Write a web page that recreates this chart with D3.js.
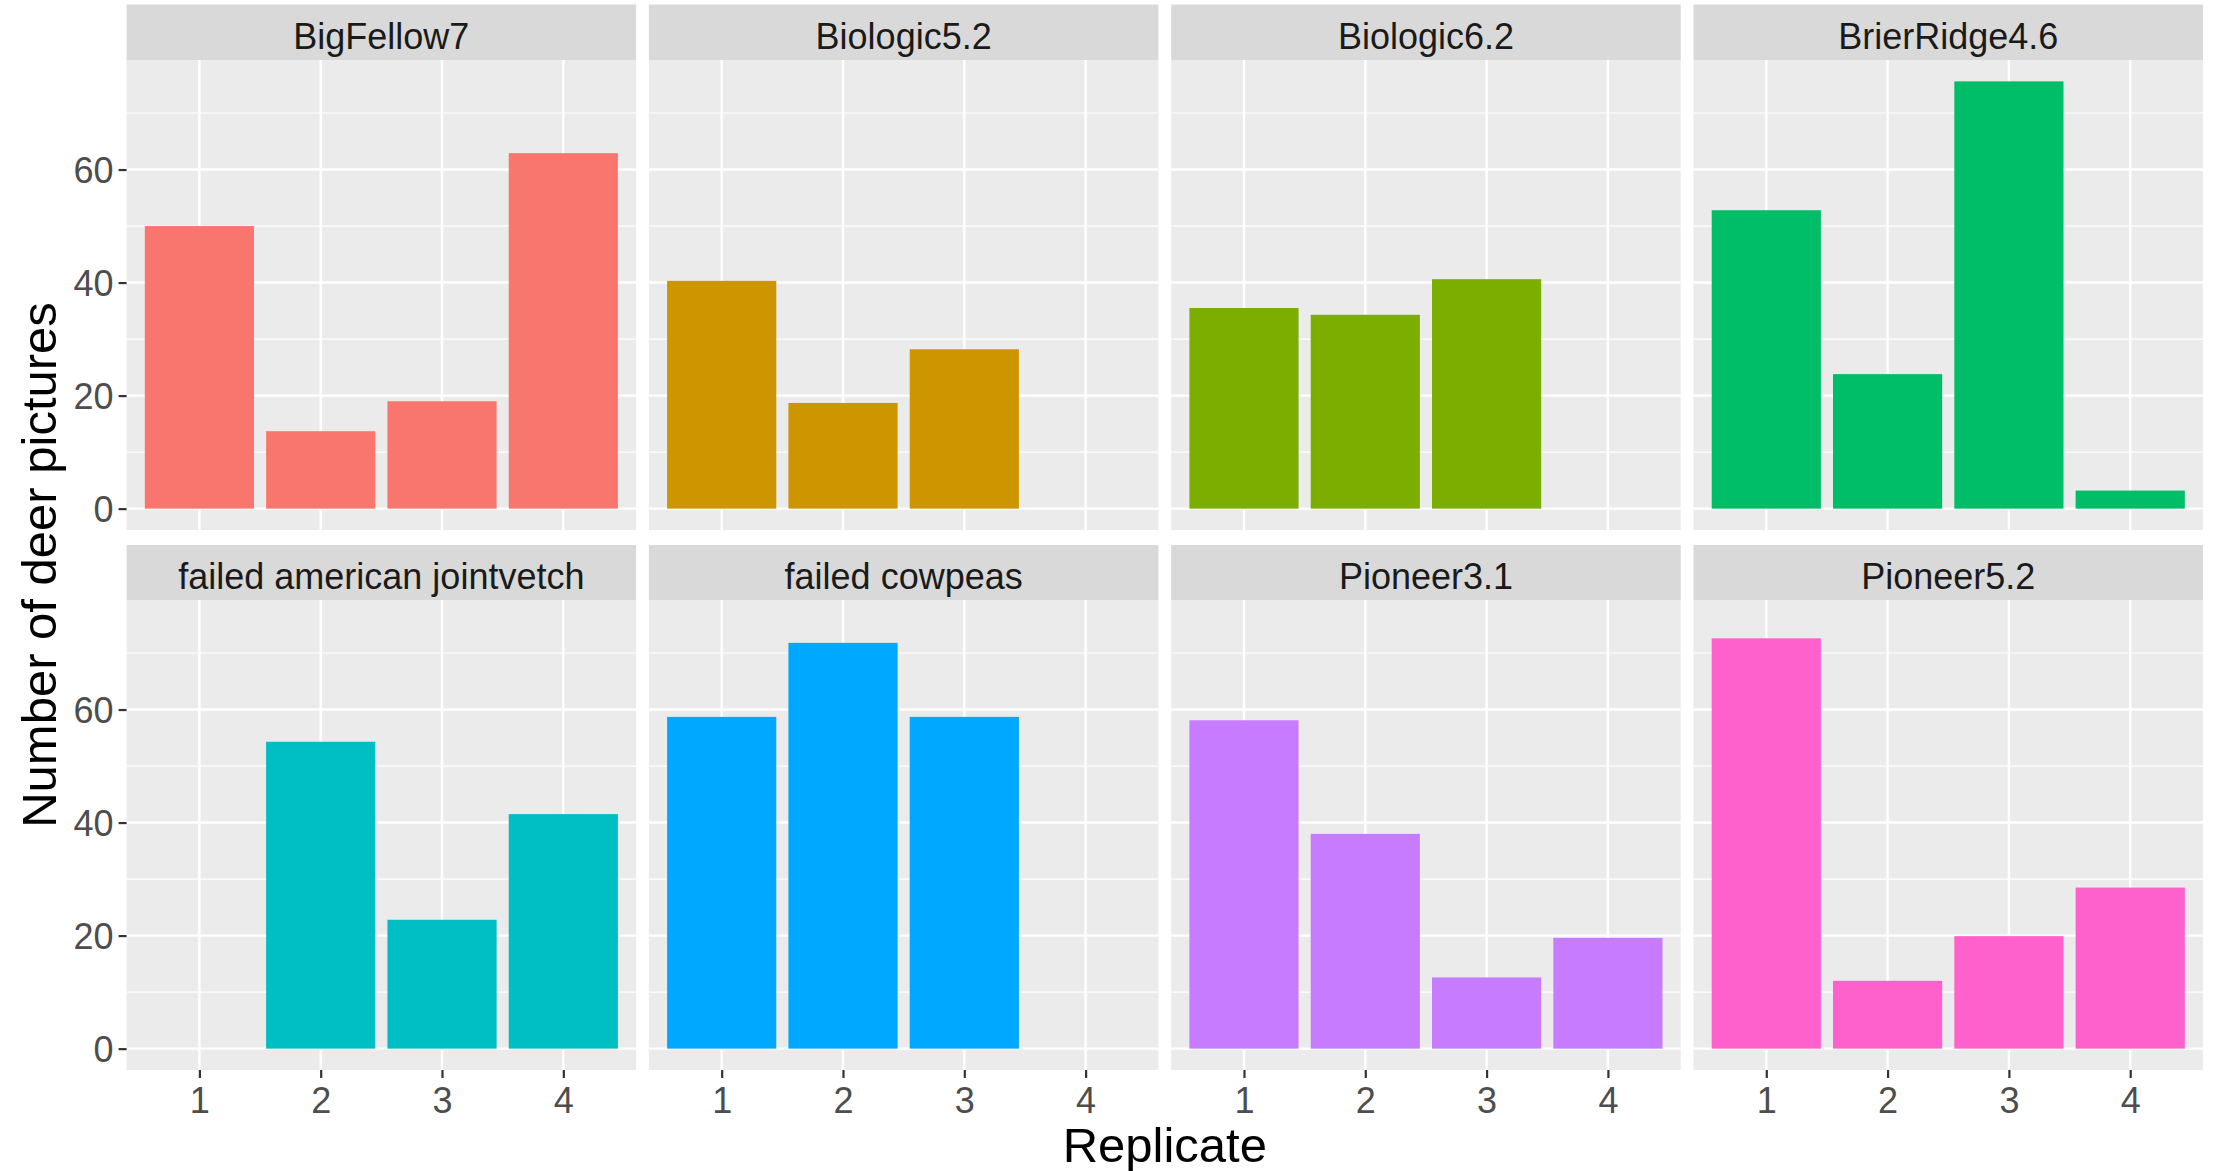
<!DOCTYPE html>
<html>
<head>
<meta charset="utf-8">
<script src="https://cdn.jsdelivr.net/npm/d3@7/dist/d3.min.js"></script>
<style>
  html, body { margin: 0; padding: 0; background: #ffffff; }
  svg { display: block; }
  text { font-family: "Liberation Sans", Arial, Helvetica, sans-serif; }
</style>
</head>
<body>
<svg id="chart" width="2216" height="1171"></svg>
<script>
// ---------------- data ----------------
const categories = ["BigFellow7", "Biologic5.2", "Biologic6.2", "BrierRidge4.6",
                    "failed american jointvetch", "failed cowpeas", "Pioneer3.1", "Pioneer5.2"];
const replicates = [1, 2, 3, 4];
const bigFellow7      = [50.0, 13.7, 19.0, 62.9];
const biologic52      = [40.3, 18.7, 28.2, null];
const biologic62      = [35.5, 34.3, 40.6, null];
const brierRidge46    = [52.8, 23.8, 75.6, 3.2];
const failedJointvetch = [null, 54.3, 22.8, 41.5];
const failedCowpeas   = [58.7, 71.8, 58.7, null];
const pioneer31       = [58.1, 38.0, 12.6, 19.6];
const pioneer52       = [72.6, 12.0, 19.9, 28.5];
const seriesValues = [bigFellow7, biologic52, biologic62, brierRidge46,
                      failedJointvetch, failedCowpeas, pioneer31, pioneer52];
const yTickValues = [0, 20, 40, 60];
const yMinorValues = [10, 30, 50, 70];
const colors = ["#F8766D", "#CD9600", "#7CAE00", "#00BE67", "#00BFC4", "#00A9FF", "#C77CFF", "#FF61CC"];
const xTitle = "Replicate";
const yTitle = "Number of deer pictures";

// ---------------- layout ----------------
const svg = d3.select("#chart");
const panelLeft0 = 126.6, panelW = 509.5, panelStep = 522.3;
const rows = [
  { stripTop: 4.5, plotTop: 60, plotBottom: 530 },
  { stripTop: 545, plotTop: 600, plotBottom: 1070 }
];
const ncol = 4;

const allVals = seriesValues.flat().filter(v => v != null);
const yMax = d3.max(allVals), yMinD = 0;
const yRange = yMax - yMinD;
const yDomain = [yMinD - 0.05 * yRange, yMax + 0.05 * yRange];

const data = [];
categories.forEach((c, i) => {
  replicates.forEach((r, j) => {
    const v = seriesValues[i][j];
    if (v != null) data.push({ cat: c, idx: i, rep: r, value: v });
  });
});

categories.forEach((cat, i) => {
  const row = Math.floor(i / ncol), col = i % ncol;
  const R = rows[row];
  const left = panelLeft0 + col * panelStep;
  const x = d3.scaleLinear().domain([0.4, 4.6]).range([left, left + panelW]);
  const y = d3.scaleLinear().domain(yDomain).range([R.plotBottom, R.plotTop]);
  const g = svg.append("g");

  // strip
  g.append("rect").attr("x", left).attr("y", R.stripTop)
    .attr("width", panelW).attr("height", R.plotTop - R.stripTop).attr("fill", "#D9D9D9");
  g.append("text").attr("x", left + panelW / 2).attr("y", R.stripTop + 44)
    .attr("text-anchor", "middle").attr("font-size", 36).attr("fill", "#1A1A1A")
    .text(cat);

  // panel background
  g.append("rect").attr("x", left).attr("y", R.plotTop)
    .attr("width", panelW).attr("height", R.plotBottom - R.plotTop).attr("fill", "#EBEBEB");

  // minor grid
  g.selectAll(".minor").data(yMinorValues).join("line")
    .attr("x1", left).attr("x2", left + panelW)
    .attr("y1", d => y(d)).attr("y2", d => y(d))
    .attr("stroke", "#FFFFFF").attr("stroke-width", 1.2);
  // major grid
  g.selectAll(".majorY").data(yTickValues).join("line")
    .attr("x1", left).attr("x2", left + panelW)
    .attr("y1", d => y(d)).attr("y2", d => y(d))
    .attr("stroke", "#FFFFFF").attr("stroke-width", 2.4);
  g.selectAll(".majorX").data(replicates).join("line")
    .attr("x1", d => x(d)).attr("x2", d => x(d))
    .attr("y1", R.plotTop).attr("y2", R.plotBottom)
    .attr("stroke", "#FFFFFF").attr("stroke-width", 2.4);

  // bars
  g.selectAll(".bar").data(data.filter(d => d.idx === i)).join("rect")
    .attr("x", d => x(d.rep - 0.45))
    .attr("width", d => x(d.rep + 0.45) - x(d.rep - 0.45))
    .attr("y", d => y(d.value))
    .attr("height", d => y(0) - y(d.value))
    .attr("fill", colors[i]);

  // y axis (first column)
  if (col === 0) {
    const ax = g.append("g").attr("transform", `translate(${left},0)`)
      .call(d3.axisLeft(y).tickValues(yTickValues).tickSize(8).tickPadding(5).tickFormat(d3.format("d")));
    ax.select(".domain").remove();
    ax.selectAll(".tick line").attr("stroke", "#333333").attr("stroke-width", 2.2);
    ax.selectAll(".tick text").attr("font-size", 36).attr("fill", "#4D4D4D")
      .attr("font-family", "'Liberation Sans', Arial, sans-serif").attr("dy", "0.36em");
  }
  // x axis (bottom row)
  if (row === 1) {
    const ax = g.append("g").attr("transform", `translate(0,${R.plotBottom})`)
      .call(d3.axisBottom(x).tickValues(replicates).tickSize(8).tickPadding(9).tickFormat(d3.format("d")));
    ax.select(".domain").remove();
    ax.selectAll(".tick line").attr("stroke", "#333333").attr("stroke-width", 2.2);
    ax.selectAll(".tick text").attr("font-size", 36).attr("fill", "#4D4D4D")
      .attr("font-family", "'Liberation Sans', Arial, sans-serif").attr("dy", "0.71em");
  }
});

// axis titles
const plotCenterX = (panelLeft0 + panelLeft0 + 3 * panelStep + panelW) / 2;
svg.append("text").attr("x", plotCenterX).attr("y", 1162)
  .attr("text-anchor", "middle").attr("font-size", 49).attr("fill", "#000000").text(xTitle);
svg.append("text").attr("transform", `translate(56,565) rotate(-90)`)
  .attr("text-anchor", "middle").attr("font-size", 49).attr("fill", "#000000").text(yTitle);
</script>
</body>
</html>
